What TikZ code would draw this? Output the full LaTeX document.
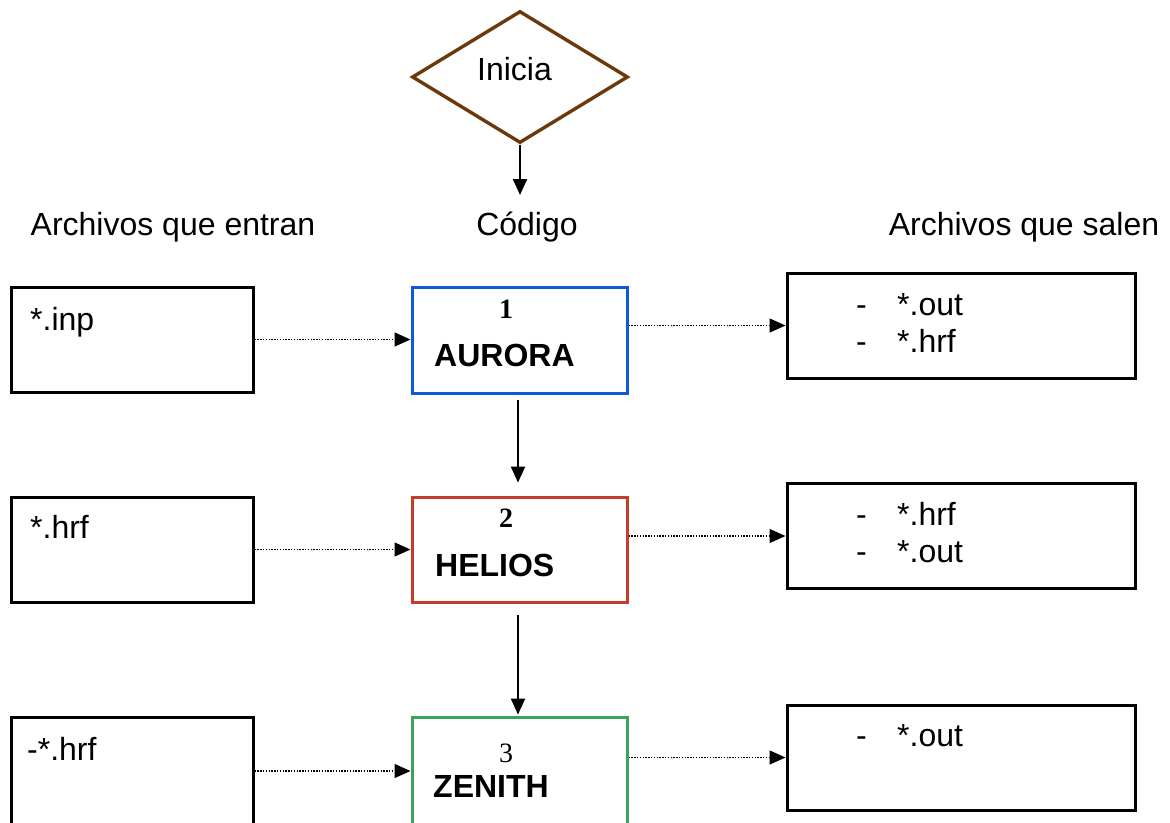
\documentclass[tikz,border=0pt]{standalone}
\usepackage{fontspec}
\setmainfont{Liberation Sans}
\newfontfamily\numfont{Liberation Serif}
\usetikzlibrary{shapes.geometric,arrows.meta}
\definecolor{brownc}{RGB}{107,58,10}
\definecolor{bluec}{RGB}{10,92,219}
\definecolor{redc}{RGB}{196,60,42}
\definecolor{greenc}{RGB}{61,163,90}
\tikzset{
  box/.style={draw, line width=3pt, rectangle, inner sep=0pt},
  inbox/.style={box, minimum width=242pt},
  codebox/.style={box, minimum width=215pt},
  outbox/.style={box, minimum width=348pt, minimum height=105pt},
  txt/.style={inner sep=0pt, anchor=base west, font=\fontsize{32}{37}\selectfont},
  hdr/.style={inner sep=0pt, anchor=base, font=\fontsize{32}{37}\selectfont},
  bold/.style={inner sep=0pt, anchor=base west, font=\fontsize{32}{37}\selectfont\bfseries},
  num/.style={inner sep=0pt, anchor=base, font=\fontsize{28}{30}\selectfont\numfont\bfseries},
  numreg/.style={inner sep=0pt, anchor=base, font=\fontsize{28}{30}\selectfont\numfont},
  tip/.style={-{Triangle[length=16pt,width=14pt]}},
  solidarrow/.style={tip, line width=2.2pt},
  dotarrow/.style={tip, line width=1.4pt, dash pattern=on 1.4pt off 1.4pt},
}
\begin{document}
\begin{tikzpicture}[x=1pt,y=-1pt]
\useasboundingbox (0,0) rectangle (1170,822);
\clip (0,0) rectangle (1170,822);
% start
\node[draw=brownc, line width=3.4pt, diamond, aspect=1.636, minimum width=216pt, minimum height=132pt, inner sep=0pt] (start) at (520,77) {};
\node[txt] (inicia) at (477,80) {Inicia};
\coordinate (startend) at (520,195);
\draw[solidarrow] (start.south) -- (startend);
% headers
\node[hdr] (h1) at (173,235) {Archivos que entran};
\node[hdr] (h2) at (527,235) {Código};
\node[hdr] (h3) at (1024,235) {Archivos que salen};
% row 1
\node[inbox, minimum height=105pt] (in1) at (132,339.5) {};
\node[codebox, draw=bluec, minimum height=106pt] (c1) at (519.5,340) {};
\node[outbox] (out1) at (961,325.5) {};
\node[txt] (in1t) at (30,330) {*.inp};
\node[num] (n1) at (506,318) {1};
\node[bold] (c1t) at (434,366) {AURORA};
\node[txt] (o1a) at (856,315) {\makebox[41pt][l]{-}*.out};
\node[txt] (o1b) at (856,352) {\makebox[41pt][l]{-}*.hrf};
% row 2
\node[inbox, minimum height=105pt] (in2) at (132,549.5) {};
\node[codebox, draw=redc, minimum height=105pt] (c2) at (519.5,549.5) {};
\node[outbox] (out2) at (961,536) {};
\node[txt] (in2t) at (30,538) {*.hrf};
\node[num] (n2) at (506,527) {2};
\node[bold] (c2t) at (435,576) {HELIOS};
\node[txt] (o2a) at (856,525) {\makebox[41pt][l]{-}*.hrf};
\node[txt] (o2b) at (856,562) {\makebox[41pt][l]{-}*.out};
% row 3
\node[inbox, minimum height=112pt] (in3) at (132,773) {};
\node[codebox, draw=greenc, minimum height=112pt] (c3) at (519.5,773) {};
\node[outbox] (out3) at (961,757.5) {};
\node[txt] (in3t) at (27,760) {-*.hrf};
\node[numreg] (n3) at (506,762) {3};
\node[bold] (c3t) at (433,797) {ZENITH};
\node[txt] (o3a) at (856,746) {\makebox[41pt][l]{-}*.out};
% arrows
\draw[dotarrow] (in1.east) -- (c1.west |- in1.east);
\draw[dotarrow] (in2.east) -- (c2.west |- in2.east);
\draw[dotarrow] (in3.east |- 0,771) -- (c3.west |- 0,771);
\draw[dotarrow] (c1.east |- out1.west) -- (out1.west);
\draw[dotarrow] (c2.east |- out2.west) -- (out2.west);
\draw[dotarrow] (c3.east |- out3.west) -- (out3.west);
\draw[solidarrow, shorten <=5pt, shorten >=13pt] (c1.south -| 518,0) -- (c2.north -| 518,0);
\draw[solidarrow, shorten <=11pt, shorten >=1pt] (c2.south -| 518,0) -- (c3.north -| 518,0);
\end{tikzpicture}
\end{document}
